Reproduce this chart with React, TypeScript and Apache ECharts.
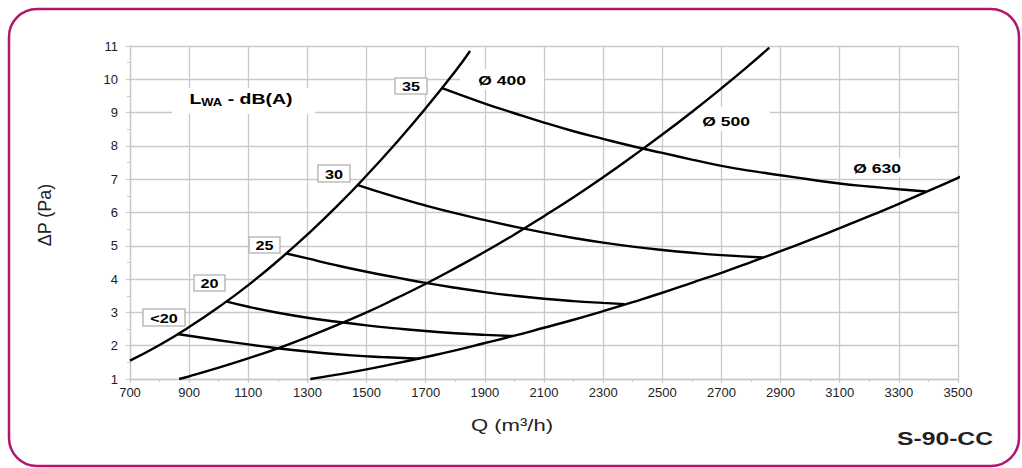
import React, { useEffect, useRef } from "react";
import * as echarts from "echarts";

// Axis ranges / ticks
const X_MIN = 700;
const X_MAX = 3500;
const X_STEP = 200;
const Y_MIN = 1;
const Y_MAX = 11;
const Y_STEP = 1;

// Duct system curves  [Q (m3/h), dP (Pa)]
const DUCT_400 = [
  [700, 1.55], [800, 2.02], [900, 2.56], [1000, 3.16], [1100, 3.82],
  [1200, 4.55], [1300, 5.34], [1400, 6.19], [1500, 7.11], [1600, 8.09],
  [1700, 9.13], [1800, 10.24], [1850, 10.85],
];
const DUCT_500 = [
  [866, 1.0], [900, 1.08], [1000, 1.34], [1100, 1.62], [1200, 1.92], [1300, 2.26],
  [1400, 2.62], [1500, 3.0], [1600, 3.42], [1700, 3.86], [1800, 4.33], [1900, 4.82],
  [2000, 5.34], [2100, 5.89], [2200, 6.46], [2300, 7.06], [2400, 7.69], [2500, 8.34],
  [2600, 9.02], [2700, 9.73], [2800, 10.47], [2862, 10.95],
];
const DUCT_630 = [
  [1310, 1.0], [1400, 1.13], [1500, 1.29], [1600, 1.47], [1700, 1.66], [1800, 1.86],
  [1900, 2.08], [2000, 2.3], [2100, 2.54], [2200, 2.78], [2300, 3.04], [2400, 3.31],
  [2500, 3.59], [2600, 3.89], [2700, 4.19], [2800, 4.51], [2900, 4.84], [3000, 5.18],
  [3100, 5.53], [3200, 5.89], [3300, 6.26], [3400, 6.65], [3500, 7.04], [3545, 7.24],
];

// Iso-noise lines (LWA dB(A))
const NOISE_LT20 = [
  [860, 2.35], [950, 2.23], [1050, 2.1], [1150, 1.98], [1250, 1.87], [1350, 1.78],
  [1450, 1.71], [1550, 1.66], [1680, 1.61],
];
const NOISE_20 = [
  [1024, 3.33], [1100, 3.17], [1200, 2.99], [1300, 2.84], [1400, 2.72], [1500, 2.61],
  [1600, 2.52], [1700, 2.44], [1800, 2.375], [1900, 2.325], [1995, 2.29],
];
const NOISE_25 = [
  [1229, 4.77], [1300, 4.62], [1400, 4.41], [1500, 4.22], [1600, 4.05], [1700, 3.885],
  [1800, 3.74], [1900, 3.61], [2000, 3.5], [2100, 3.41], [2200, 3.34], [2300, 3.285],
  [2372, 3.25],
];
const NOISE_30 = [
  [1468, 6.83], [1600, 6.46], [1700, 6.21], [1800, 5.98], [1900, 5.77], [2000, 5.575],
  [2100, 5.395], [2200, 5.235], [2300, 5.095], [2400, 4.975], [2500, 4.875], [2600, 4.79],
  [2700, 4.72], [2840, 4.65],
];
const NOISE_35 = [
  [1753, 9.74], [1900, 9.27], [2000, 8.98], [2100, 8.7], [2200, 8.44], [2300, 8.21],
  [2400, 7.99], [2500, 7.79], [2600, 7.59], [2700, 7.4], [2800, 7.25], [2900, 7.12],
  [3000, 6.99], [3100, 6.87], [3200, 6.78], [3300, 6.7], [3392, 6.63],
];

const LEVEL_LABELS = ["35", "30", "25", "20", "<20"];
const DIAMETER_LABELS = ["Ø 400", "Ø 500", "Ø 630"];

const FONT = "'Liberation Sans', Arial, sans-serif";
const GRID_COLOR = "#c9c9c9";
const BORDER_COLOR = "#b3156d";

function lineSeries(name: string, data: number[][], clip = true) {
  return {
    name,
    type: "line",
    data,
    smooth: 0.5,
    showSymbol: false,
    symbol: "none",
    clip,
    silent: true,
    lineStyle: { color: "#000", width: 2.4 },
    z: 3,
  };
}

export default function App() {
  const ref = useRef<HTMLDivElement>(null);

  useEffect(() => {
    if (!ref.current) return;
    const chart = echarts.init(ref.current, undefined, { renderer: "svg" });

    const levelBoxes = [
      { x: 395, y: 78, w: 32, h: 16 },
      { x: 318, y: 165, w: 32, h: 17 },
      { x: 249, y: 237, w: 31, h: 16 },
      { x: 194, y: 275, w: 31, h: 16 },
      { x: 143, y: 309, w: 42, h: 17 },
    ];
    const diaPos = [
      { cx: 502, cy: 80, r: { x: 460, y: 69, w: 84, h: 21 } },
      { cx: 726, cy: 121, r: { x: 694, y: 107, w: 76, h: 24 } },
      { cx: 877, cy: 168.5, r: { x: 847, y: 158, w: 60, h: 19 } },
    ];

    const graphics: any[] = [
      {
        type: "rect",
        shape: { x: 9, y: 9, width: 1010, height: 457, r: 28 },
        style: { fill: "none", stroke: BORDER_COLOR, lineWidth: 2.5 },
        z: 0,
        silent: true,
      },
      {
        type: "rect",
        shape: { x: 172, y: 88, width: 143, height: 26 },
        style: { fill: "#fff" },
        z: 1,
      },
      {
        type: "text",
        x: 241,
        y: 99,
        scaleX: 1.3,
        z: 10,
        style: {
          text: "{a|L}{b|WA}{a| - dB(A)}",
          align: "center",
          verticalAlign: "middle",
          fill: "#000",
          rich: {
            a: { fontSize: 15, fontWeight: "bold", fontFamily: FONT, fill: "#000", lineHeight: 18 },
            b: { fontSize: 10, fontWeight: "bold", fontFamily: FONT, fill: "#000", lineHeight: 18, padding: [7, 0, 0, 0] },
          },
        },
      },
    ];

    LEVEL_LABELS.forEach((t, i) => {
      const b = levelBoxes[i];
      graphics.push({
        type: "rect",
        shape: { x: b.x, y: b.y, width: b.w, height: b.h },
        style: { fill: "#fff", stroke: "#bdbdbd", lineWidth: 1.6 },
        z: 1,
      });
      graphics.push({
        type: "text",
        x: b.x + b.w / 2,
        y: b.y + b.h / 2 + 0.5,
        scaleX: 1.2,
        z: 10,
        style: {
          text: t,
          align: "center",
          verticalAlign: "middle",
          fontSize: 13.5,
          fontWeight: "bold",
          fontFamily: FONT,
          fill: "#000",
        },
      });
    });

    DIAMETER_LABELS.forEach((t, i) => {
      const p = diaPos[i];
      graphics.push({
        type: "rect",
        shape: { x: p.r.x, y: p.r.y, width: p.r.w, height: p.r.h },
        style: { fill: "#fff" },
        z: 1,
      });
      graphics.push({
        type: "text",
        x: p.cx,
        y: p.cy,
        scaleX: 1.3,
        z: 10,
        style: {
          text: t,
          align: "center",
          verticalAlign: "middle",
          fontSize: 13.5,
          fontWeight: "bold",
          fontFamily: FONT,
          fill: "#000",
        },
      });
    });

    graphics.push(
      {
        type: "text",
        x: 45,
        y: 215,
        rotation: Math.PI / 2,
        z: 10,
        style: {
          text: "ΔP (Pa)",
          align: "center",
          verticalAlign: "middle",
          fontSize: 18,
          fontFamily: FONT,
          fill: "#222",
        },
      },
      {
        type: "text",
        x: 512,
        y: 425,
        scaleX: 1.3,
        z: 10,
        style: {
          text: "Q (m³/h)",
          align: "center",
          verticalAlign: "middle",
          fontSize: 17,
          fontFamily: FONT,
          fill: "#222",
        },
      },
      {
        type: "text",
        x: 945,
        y: 439,
        scaleX: 1.3,
        z: 10,
        style: {
          text: "S-90-CC",
          align: "center",
          verticalAlign: "middle",
          fontSize: 19,
          fontWeight: "bold",
          fontFamily: FONT,
          fill: "#222",
        },
      }
    );

    const axisCommon = {
      type: "value",
      axisLine: { show: true, lineStyle: { color: GRID_COLOR, width: 1.3 } },
      axisTick: { show: true, length: 4, lineStyle: { color: GRID_COLOR, width: 1.2 } },
      minorTick: { show: true, splitNumber: 2, length: 3, lineStyle: { color: GRID_COLOR, width: 1 } },
      splitLine: { show: true, lineStyle: { color: GRID_COLOR, width: 1.3 } },
      minorSplitLine: { show: false },
    };

    chart.setOption({
      animation: false,
      backgroundColor: "#fff",
      grid: { left: 130, right: 64, top: 46, bottom: 89, containLabel: false },
      xAxis: {
        ...axisCommon,
        min: X_MIN,
        max: X_MAX,
        interval: X_STEP,
        axisLabel: {
          color: "#222",
          fontSize: 13,
          fontFamily: FONT,
          margin: 7,
          formatter: (v: number) => String(v),
        },
      },
      yAxis: {
        ...axisCommon,
        min: Y_MIN,
        max: Y_MAX,
        interval: Y_STEP,
        axisLabel: {
          color: "#222",
          fontSize: 13,
          fontFamily: FONT,
          margin: 12,
          formatter: (v: number) => String(v),
        },
      },
      series: [
        lineSeries("Ø 400", DUCT_400),
        lineSeries("Ø 500", DUCT_500),
        lineSeries("Ø 630", DUCT_630, false),
        lineSeries("<20", NOISE_LT20),
        lineSeries("20", NOISE_20),
        lineSeries("25", NOISE_25),
        lineSeries("30", NOISE_30),
        lineSeries("35", NOISE_35),
      ],
      graphic: graphics,
    });

    return () => chart.dispose();
  }, []);

  return (
    <div
      style={{ position: "fixed", left: 0, top: 0, width: 1022, height: 468, background: "#fff" }}
    >
      <div ref={ref} style={{ width: 1022, height: 468 }} />
    </div>
  );
}
